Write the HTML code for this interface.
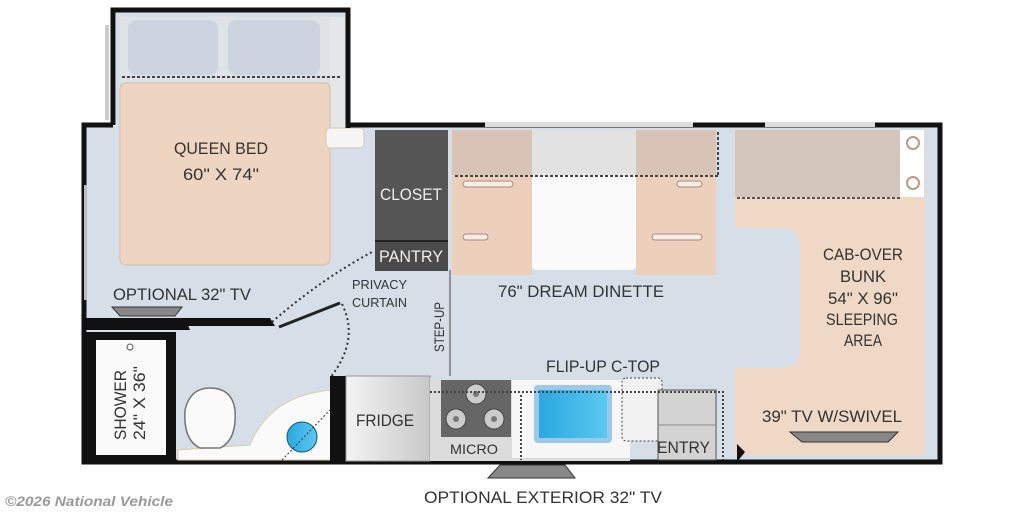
<!DOCTYPE html>
<html><head><meta charset="utf-8"><style>
html,body{margin:0;padding:0;background:#fff;width:1024px;height:512px;overflow:hidden}
svg{display:block}
text{font-family:"Liberation Sans",sans-serif;fill:#333;font-size:17px}
</style></head><body>
<svg width="1024" height="512" viewBox="0 0 1024 512" xmlns="http://www.w3.org/2000/svg">
<defs>
<linearGradient id="gf" x1="0" x2="1"><stop offset="0" stop-color="#f4f4f4"/><stop offset="1" stop-color="#c8c8c8"/></linearGradient>
<linearGradient id="gb" x1="0" x2="1"><stop offset="0" stop-color="#2aa8e0"/><stop offset="1" stop-color="#5bc8f0"/></linearGradient>
</defs>
<rect x="85" y="126" width="854" height="336" fill="#d6dfe8"/>
<rect x="116" y="12" width="232" height="118" fill="#d6dfe8"/>
<rect x="120" y="17" width="210" height="65" fill="#e0e3e6"/>
<rect x="128" y="20" width="90" height="55" rx="8" fill="#ccd5df"/>
<rect x="228" y="20" width="92" height="55" rx="8" fill="#ccd5df"/>
<rect x="330" y="17" width="15" height="112" fill="#e4e6e8"/>
<line x1="122" y1="77" x2="340" y2="77" stroke="#444" stroke-width="2" stroke-dasharray="3,2"/>
<rect x="120" y="83" width="210" height="182" rx="6" fill="#edd5c2" stroke="#d9bba4"/>
<text x="174" y="154" textLength="94" lengthAdjust="spacingAndGlyphs">QUEEN BED</text>
<text x="183" y="180" textLength="76" lengthAdjust="spacingAndGlyphs">60" X 74"</text>
<rect x="326" y="128" width="38" height="20" rx="4" fill="#f5f5f5" stroke="#d9c6ad"/>
<path d="M113 125 V10 H348 V128" fill="none" stroke="#111" stroke-width="5"/>
<rect x="105" y="25" width="4" height="95" fill="#ccc"/>
<path d="M113 125 H84 V462 H940 V125 H348" fill="none" stroke="#111" stroke-width="5"/>
<rect x="84" y="185" width="3" height="115" fill="#bbb"/>
<rect x="485" y="122" width="208" height="5" fill="#ddd"/>
<rect x="765" y="122" width="110" height="5" fill="#ddd"/>
<rect x="375" y="130" width="73" height="111" fill="#555"/>
<rect x="375" y="242" width="73" height="29" fill="#4a4a4a"/>
<rect x="375" y="240" width="73" height="2" fill="#222"/>
<text x="380" y="200" style="fill:#eee" textLength="62" lengthAdjust="spacingAndGlyphs">CLOSET</text>
<text x="379" y="262" style="fill:#eee" textLength="64" lengthAdjust="spacingAndGlyphs">PANTRY</text>
<rect x="452" y="130" width="80" height="145" fill="#ecd0bb"/>
<rect x="452" y="130" width="80" height="45" fill="#d8c3b4"/>
<rect x="532" y="130" width="104" height="140" rx="4" fill="#fafafa"/>
<rect x="532" y="130" width="104" height="45" fill="#e2e2e2"/>
<rect x="636" y="130" width="80" height="145" fill="#ecd0bb"/>
<rect x="636" y="130" width="80" height="45" fill="#d8c3b4"/>
<line x1="455" y1="176" x2="720" y2="176" stroke="#444" stroke-width="2" stroke-dasharray="3,2"/>
<line x1="718" y1="132" x2="718" y2="176" stroke="#444" stroke-width="2" stroke-dasharray="3,2"/>
<rect x="463" y="181" width="50" height="6" rx="3" fill="#f6ede5" stroke="#a88"/>
<rect x="463" y="234" width="25" height="6" rx="3" fill="#f6ede5" stroke="#a88"/>
<rect x="677" y="181" width="25" height="6" rx="3" fill="#f6ede5" stroke="#a88"/>
<rect x="652" y="234" width="50" height="6" rx="3" fill="#f6ede5" stroke="#a88"/>
<text x="498" y="297" textLength="166" lengthAdjust="spacingAndGlyphs">76" DREAM DINETTE</text>
<path d="M735 130 H925 V455 H735 V368 H780 Q800 368 800 350 V250 Q800 228 780 228 H735 Z" fill="#efd8c5"/>
<rect x="735" y="130" width="165" height="67" fill="#d4c6bb"/>
<rect x="900" y="130" width="24" height="67" fill="#fff"/>
<circle cx="913" cy="143" r="6" fill="none" stroke="#b98" stroke-width="2"/>
<circle cx="913" cy="183" r="6" fill="none" stroke="#b98" stroke-width="2"/>
<line x1="737" y1="198" x2="900" y2="198" stroke="#555" stroke-width="2" stroke-dasharray="3,2"/>
<text x="823" y="260" textLength="80" lengthAdjust="spacingAndGlyphs">CAB-OVER</text>
<text x="840" y="282" textLength="46" lengthAdjust="spacingAndGlyphs">BUNK</text>
<text x="828" y="304" textLength="70" lengthAdjust="spacingAndGlyphs">54" X 96"</text>
<text x="826" y="325" textLength="72" lengthAdjust="spacingAndGlyphs">SLEEPING</text>
<text x="844" y="346" textLength="38" lengthAdjust="spacingAndGlyphs">AREA</text>
<text x="762" y="422" textLength="140" lengthAdjust="spacingAndGlyphs">39" TV W/SWIVEL</text>
<path d="M790 432 H898 L888 442 H802 Z" fill="#888" stroke="#333"/>
<path d="M737 462 V444 L745 452 Z" fill="#111"/>
<line x1="450" y1="270" x2="450" y2="376" stroke="#777" stroke-width="1.5"/>
<text transform="translate(444,352) rotate(-90)" style="font-size:14px" textLength="50" lengthAdjust="spacingAndGlyphs">STEP-UP</text>
<text x="113" y="300" textLength="138" lengthAdjust="spacingAndGlyphs">OPTIONAL 32" TV</text>
<path d="M112 307 H182 L175 316 H120 Z" fill="#888" stroke="#333"/>
<path d="M84 318 H185 L190 330 H84 Z" fill="#111"/>
<path d="M175 318 H270 L275 326 H185 Z" fill="#111"/>
<line x1="279" y1="327" x2="340" y2="303" stroke="#222" stroke-width="3"/>
<path d="M272 322 Q320 280 372 252" fill="none" stroke="#333" stroke-width="2" stroke-dasharray="2,3"/>
<path d="M342 304 Q360 340 330 378" fill="none" stroke="#333" stroke-width="2" stroke-dasharray="2,3"/>
<text x="352" y="289" style="font-size:13px" textLength="55" lengthAdjust="spacingAndGlyphs">PRIVACY</text>
<text x="352" y="307" style="font-size:13px" textLength="55" lengthAdjust="spacingAndGlyphs">CURTAIN</text>
<rect x="86" y="332" width="90" height="130" fill="#111"/>
<rect x="96" y="340" width="70" height="115" fill="#fafafa"/>
<circle cx="130" cy="347" r="3" fill="none" stroke="#555"/>
<text transform="translate(126,440) rotate(-90)" textLength="70" lengthAdjust="spacingAndGlyphs">SHOWER</text>
<text transform="translate(145,440) rotate(-90)" textLength="74" lengthAdjust="spacingAndGlyphs">24" X 36"</text>
<path d="M178 460 V450 L250 445 Q270 395 332 390 V460 Z" fill="#fafafa" stroke="#d8cfa8"/>
<path d="M200 448 Q183 440 185 410 Q190 388 210 388 Q232 388 235 410 Q237 440 220 448 Z" fill="#fafafa" stroke="#777" stroke-width="1.5"/>
<circle cx="302" cy="437" r="15" fill="url(#gb)" stroke="#157"/>
<line x1="282" y1="460" x2="330" y2="410" stroke="#333" stroke-dasharray="2,2"/>
<rect x="330" y="376" width="16" height="86" fill="#111"/>
<rect x="346" y="376" width="84" height="85" fill="url(#gf)" stroke="#999"/>
<text x="356" y="426" textLength="58" lengthAdjust="spacingAndGlyphs">FRIDGE</text>
<rect x="430" y="378" width="200" height="83" fill="#dcdcdc"/>
<rect x="441" y="380" width="70" height="57" fill="#666"/>
<circle cx="476" cy="394" r="10" fill="#ccc" stroke="#444"/><circle cx="476" cy="394" r="3" fill="#777"/>
<circle cx="456" cy="419" r="10" fill="#ccc" stroke="#444"/><circle cx="456" cy="419" r="3" fill="#777"/>
<circle cx="494" cy="419" r="10" fill="#ccc" stroke="#444"/><circle cx="494" cy="419" r="3" fill="#777"/>
<text x="450" y="454" style="font-size:14px" textLength="48" lengthAdjust="spacingAndGlyphs">MICRO</text>
<rect x="512" y="380" width="118" height="78" fill="#f7f7f7"/>
<rect x="534" y="385" width="78" height="58" rx="4" fill="#9cc8ec"/>
<rect x="539" y="390" width="68" height="48" fill="url(#gb)"/>
<rect x="622" y="378" width="40" height="63" rx="4" fill="#f2f2f2" stroke="#444" stroke-dasharray="2,2"/>
<rect x="658" y="390" width="58" height="70" fill="#d3d3d3" stroke="#555"/>
<line x1="658" y1="425" x2="716" y2="425" stroke="#888"/>
<path d="M430 392 H723 V460" fill="none" stroke="#444" stroke-width="2" stroke-dasharray="2,2"/>
<line x1="521" y1="395" x2="521" y2="460" stroke="#444" stroke-width="2" stroke-dasharray="2,2"/>
<text x="546" y="372" textLength="114" lengthAdjust="spacingAndGlyphs">FLIP-UP C-TOP</text>
<text x="657" y="453" textLength="53" lengthAdjust="spacingAndGlyphs">ENTRY</text>
<path d="M500 465 H565 L575 478 H488 Z" fill="#888" stroke="#333"/>
<text x="424" y="503" textLength="238" lengthAdjust="spacingAndGlyphs">OPTIONAL EXTERIOR 32" TV</text>
<text x="5" y="506" style="font-size:14px;fill:#999;font-style:italic;font-weight:bold" textLength="168" lengthAdjust="spacingAndGlyphs">©2026 National Vehicle</text>
</svg>
</body></html>
